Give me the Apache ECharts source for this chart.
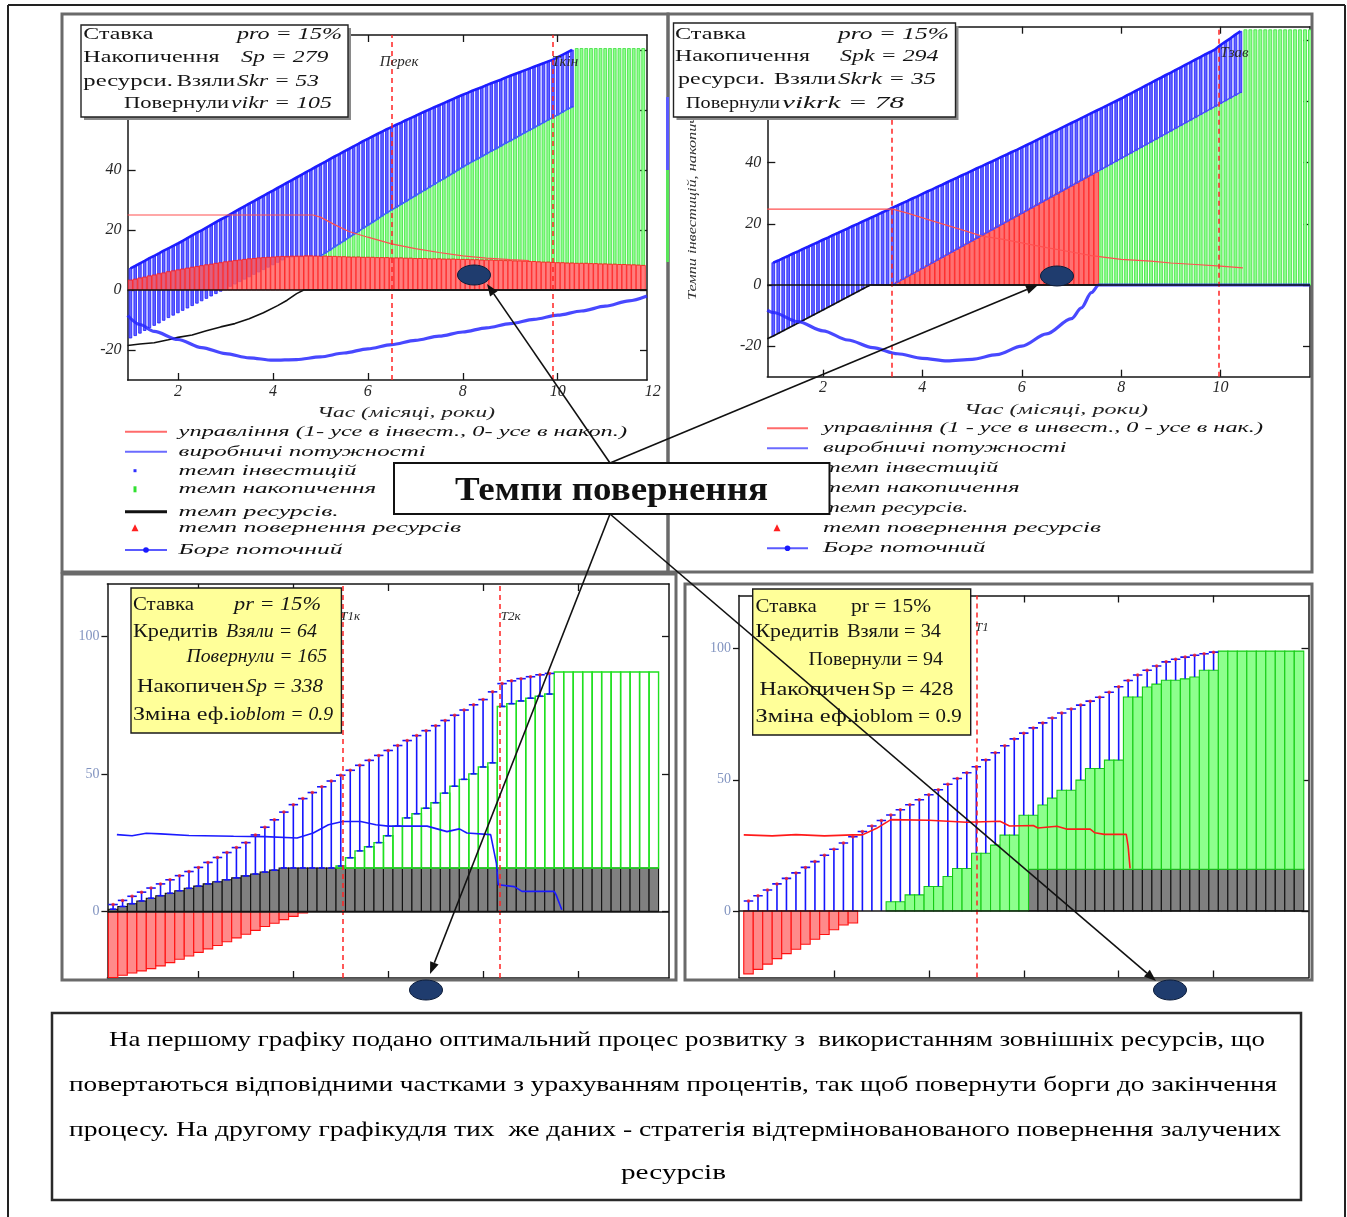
<!DOCTYPE html>
<html lang="uk">
<head>
<meta charset="utf-8">
<title>Темпи повернення</title>
<script src="https://cdn.jsdelivr.net/npm/echarts@6/dist/echarts.min.js"></script>
<style>
  html, body { margin: 0; padding: 0; background: #ffffff; }
  #chart { width: 1347px; height: 1217px; }
</style>
</head>
<body>
<div id="chart"></div>
<script>
// Simulation time step (years) shared by every panel
const STEP = 0.1;

// ---------- Panel 1: optimal schedule of returning borrowed resources ----------
const tlStart = 1.0;
const tlCapacity = [
  7.2, 8.0, 8.9, 9.7, 10.6, 11.4, 12.2, 13.1, 13.9, 14.7,
  15.5, 16.4, 17.3, 18.2, 19.1, 19.9, 20.8, 21.7, 22.6, 23.5,
  24.3, 25.2, 26.1, 27.0, 27.9, 28.8, 29.6, 30.5, 31.4, 32.3,
  33.1, 34.0, 34.9, 35.8, 36.6, 37.5, 38.4, 39.3, 40.1, 41.0,
  41.9, 42.7, 43.6, 44.5, 45.3, 46.2, 47.0, 47.9, 48.7, 49.6,
  50.4, 51.2, 52.0, 52.8, 53.6, 54.3, 55.1, 55.8, 56.6, 57.3,
  58.0, 58.8, 59.5, 60.2, 60.9, 61.6, 62.3, 63.0, 63.7, 64.4,
  65.1, 65.7, 66.4, 67.0, 67.6, 68.3, 68.9, 69.5, 70.1, 70.8,
  71.4, 72.0, 72.6, 73.2, 73.8, 74.4, 75.0, 75.6, 76.2, 76.8,
  77.6, 78.4, 79.2, 80.0
];
const tlInvestLow = [
  -16.0, -15.2, -14.4, -13.5, -12.6, -11.8, -11.0, -10.1, -9.2, -8.4,
  -7.6, -6.8, -6.0, -5.2, -4.4, -3.6, -2.8, -2.0, -1.2, -0.4,
  0.4, 1.2, 2.0, 2.8, 3.6, 4.4, 5.2, 6.0, 6.8, 7.6,
  8.4, 9.2, 10.0, 10.8, 11.0, 11.1, 11.1, 11.2, 11.2, 11.3
];
const tlAccumStart = 5.0;
const tlAccumTop = [
  11.3, 12.3, 13.3, 14.4, 15.4, 16.4, 17.5, 18.5, 19.5, 20.6,
  21.6, 22.6, 23.6, 24.7, 25.7, 26.7, 27.6, 28.6, 29.5, 30.5,
  31.4, 32.4, 33.3, 34.3, 35.2, 36.2, 37.1, 38.1, 39.0, 40.0,
  41.0, 41.9, 42.8, 43.6, 44.5, 45.4, 46.3, 47.1, 48.0, 48.9,
  49.7, 50.6, 51.5, 52.4, 53.2, 54.1, 55.0, 55.8, 56.7, 57.6,
  58.4, 59.3, 60.2, 61.0,
  80.5, 80.5, 80.5, 80.5, 80.5, 80.5, 80.5, 80.5, 80.5, 80.5,
  80.5, 80.5, 80.5, 80.5, 80.5
];
const tlReturn = [
  3.3, 3.6, 4.0, 4.3, 4.7, 5.0, 5.4, 5.7, 6.1, 6.4,
  6.7, 7.0, 7.3, 7.6, 7.8, 8.1, 8.4, 8.6, 8.9, 9.1,
  9.4, 9.6, 9.8, 10.0, 10.2, 10.4, 10.5, 10.7, 10.8, 10.9,
  11.0, 11.1, 11.2, 11.2, 11.3, 11.3, 11.3, 11.4, 11.4, 11.3,
  11.3, 11.3, 11.2, 11.2, 11.1, 11.1, 11.0, 11.0, 11.0, 10.9,
  10.9, 10.9, 10.8, 10.8, 10.8, 10.7, 10.7, 10.7, 10.6, 10.6,
  10.5, 10.5, 10.5, 10.4, 10.4, 10.4, 10.3, 10.3, 10.3, 10.2,
  10.2, 10.2, 10.1, 10.1, 10.0, 10.0, 10.0, 9.9, 9.9, 9.8,
  9.8, 9.7, 9.7, 9.6, 9.5, 9.5, 9.4, 9.3, 9.3, 9.2,
  9.1, 9.1, 9.0, 9.0, 8.9, 8.9, 8.9, 8.8, 8.8, 8.7,
  8.7, 8.6, 8.6, 8.5, 8.5, 8.4, 8.4, 8.3, 8.2
];
const tlControl = [[0.94, 25], [4.85, 25], [5.0, 24.3], [5.3, 21.8], [5.6, 19.5], [6.0, 17.6], [6.5, 15.4],
  [7.0, 13.8], [7.5, 12.5], [8.0, 11.4], [8.5, 10.6], [9.0, 10.1], [9.4, 9.8]];
const tlResource = [[0.94, -18.5], [1.2, -18.0], [1.5, -17.6], [1.8, -16.6], [2.0, -15.8], [2.3, -15.0], [2.6, -13.6],
  [2.9, -12.3], [3.2, -11.2], [3.5, -9.6], [3.8, -7.6], [4.1, -5.2], [4.3, -3.4], [4.5, -1.2], [4.65, 0], [11.88, 0]];
const tlDebt = [[0.94, -8.5], [1.2, -11.5], [1.5, -13.8], [2.0, -16.5], [2.5, -19.2], [3.0, -21.2], [3.5, -22.6],
  [4.0, -23.4], [4.5, -23.2], [5.0, -22.3], [5.5, -21.0], [6.0, -19.6], [6.5, -18.2], [7.0, -16.8], [7.5, -15.4],
  [8.0, -14.0], [8.5, -12.6], [9.0, -11.2], [9.5, -9.8], [10.0, -8.4], [10.5, -7.0], [11.0, -5.4], [11.5, -3.6], [11.88, -2.0]];
const tlMarks = [6.5, 9.9];

// ---------- Panel 2: deferred return of borrowed resources ----------
const trStart = 1.0;
const trCapacity = [
  7.3, 8.0, 8.8, 9.5, 10.3, 11.0, 11.8, 12.5, 13.3, 14.0,
  14.8, 15.5, 16.3, 17.0, 17.8, 18.5, 19.3, 20.0, 20.8, 21.5,
  22.3, 23.0, 23.8, 24.5, 25.3, 26.0, 26.8, 27.5, 28.3, 29.0,
  29.8, 30.6, 31.3, 32.1, 32.8, 33.6, 34.4, 35.1, 35.9, 36.6,
  37.4, 38.2, 38.9, 39.7, 40.4, 41.2, 42.0, 42.7, 43.5, 44.2,
  45.0, 45.8, 46.6, 47.4, 48.2, 49.0, 49.8, 50.6, 51.4, 52.2,
  53.0, 53.8, 54.6, 55.4, 56.2, 57.0, 57.8, 58.6, 59.4, 60.2,
  61.0, 61.9, 62.7, 63.6, 64.4, 65.3, 66.1, 67.0, 67.8, 68.7,
  69.5, 70.4, 71.2, 72.1, 72.9, 73.8, 74.6, 75.5, 76.3, 77.2,
  78.5, 79.6, 80.7, 81.9, 83.0
];
const trLower = [
  -16.7, -15.8, -15.0, -14.1, -13.3, -12.4, -11.6, -10.7, -9.9, -9.0,
  -8.2, -7.3, -6.5, -5.6, -4.7, -3.9, -3.0, -2.2, -1.3, -0.5,
  0, 0, 0, 0, 0, 0.9, 1.8, 2.7, 3.6, 4.5,
  5.4, 6.3, 7.2, 8.1, 9.0, 9.9, 10.8, 11.7, 12.6, 13.5,
  14.4, 15.3, 16.2, 17.1, 18.0, 18.9, 19.8, 20.7, 21.6, 22.5,
  23.4, 24.3, 25.2, 26.1, 27.0, 27.9, 28.8, 29.7, 30.6, 31.5,
  32.4, 33.3, 34.2, 35.1, 36.0, 36.9, 37.8, 38.7, 39.6, 40.5,
  41.4, 42.3, 43.2, 44.1, 45.0, 45.9, 46.8, 47.7, 48.6, 49.5,
  50.4, 51.3, 52.2, 53.1, 54.0, 54.9, 55.8, 56.7, 57.6, 58.5,
  59.4, 60.3, 61.2, 62.1, 63.0
];
const trReturnStart = 3.5;
const trReturn = [
  0.9, 1.8, 2.7, 3.6, 4.5, 5.4, 6.3, 7.2, 8.1, 9.0,
  9.9, 10.8, 11.7, 12.6, 13.5, 14.4, 15.3, 16.2, 17.1, 18.0,
  18.9, 19.8, 20.7, 21.6, 22.5, 23.4, 24.3, 25.2, 26.1, 27.0,
  27.9, 28.8, 29.7, 30.6, 31.5, 32.4, 33.3, 34.2, 35.1, 36.0,
  36.9
];
const trAccumStart = 7.6;
const trAccum = [
  37.8, 38.7, 39.6, 40.5, 41.4, 42.3, 43.2, 44.1, 45.0, 45.9,
  46.8, 47.7, 48.6, 49.5, 50.4, 51.3, 52.2, 53.1, 54.0, 54.9,
  55.8, 56.7, 57.6, 58.5, 59.4, 60.3, 61.2, 62.1, 63.0,
  83.5, 83.5, 83.5, 83.5, 83.5, 83.5, 83.5, 83.5, 83.5, 83.5,
  83.5, 83.5, 83.5, 83.5
];
const trControl = [[0.88, 24.8], [3.4, 24.8], [3.7, 23.5], [4.2, 21.0], [4.7, 18.5], [5.2, 16.0], [5.6, 15.0],
  [6.0, 13.8], [6.5, 12.2], [7.0, 10.8], [7.4, 9.6], [8.0, 8.4], [8.6, 7.8], [9.0, 7.2], [9.5, 6.7], [10.0, 6.2], [10.45, 5.6]];
const trResource = [[0.88, -17.6], [1.0, -16.7], [2.0, -8.2], [2.95, 0], [7.6, 0]];
const trDebt = [[0.88, -8.2], [1.0, -9.0], [1.5, -12.0], [2.0, -15.0], [2.5, -18.0], [3.0, -20.5], [3.5, -22.5],
  [4.0, -24.0], [4.5, -24.8], [5.0, -24.3], [5.5, -22.8], [6.0, -20.0], [6.5, -16.0], [7.0, -11.0], [7.2, -7.5],
  [7.4, -2.5], [7.55, 0], [11.8, 0]];
const trMarks = [3.38, 9.97];

// ---------- Panel 3: credit flows, returning during the process ----------
const blStart = 0.1;
const blCapacity = [
  2.5, 4.0, 5.5, 7.0, 8.5, 10.0, 11.5, 13.0, 14.5, 16.0,
  17.8, 19.6, 21.4, 23.2, 25.0, 27.8, 30.6, 33.3, 36.1, 38.8,
  41.0, 43.2, 45.3, 47.4, 49.5, 51.3, 53.1, 54.9, 56.7, 58.5,
  60.3, 62.1, 63.9, 65.7, 67.5, 69.4, 71.3, 73.2, 75.1, 77.0,
  79.8, 82.8, 83.8, 84.6, 85.3, 86.0, 86.5
];
const blInvestLow = [
  0.8, 1.8, 2.8, 3.8, 4.8, 5.7, 6.6, 7.5, 8.4, 9.2,
  10.0, 10.8, 11.5, 12.2, 12.9, 13.6, 14.3, 15.0, 15.8, 15.8,
  15.8, 15.8, 15.8, 15.8, 16.5, 19.5, 22.0, 23.5, 25.0, 27.5,
  31.0, 34.0, 35.5, 37.5, 39.5, 43.0, 45.5, 48.0, 50.0, 52.5,
  54.0, 74.5, 75.5, 76.5, 77.5, 78.2, 79.0
];
const blResource = [
  0.8, 1.8, 2.8, 3.8, 4.8, 5.7, 6.6, 7.5, 8.4, 9.2,
  10.0, 10.8, 11.5, 12.2, 12.9, 13.6, 14.3, 15.0, 15.8,
  15.8, 15.8, 15.8, 15.8, 15.8, 15.8, 15.8, 15.8, 15.8, 15.8,
  15.8, 15.8, 15.8, 15.8, 15.8, 15.8, 15.8, 15.8, 15.8, 15.8,
  15.8, 15.8, 15.8, 15.8, 15.8, 15.8, 15.8, 15.8, 15.8, 15.8,
  15.8, 15.8, 15.8, 15.8, 15.8, 15.8, 15.8, 15.8, 15.8
];
const blAccumStart = 2.5;
const blAccum = [
  16.5, 19.5, 22.0, 23.5, 25.0, 27.5,
  31.0, 34.0, 35.5, 37.5, 39.5, 43.0, 45.5, 48.0, 50.0, 52.5,
  54.0, 74.5, 75.5, 76.5, 77.5, 78.2, 79.0,
  87.0, 87.0, 87.0, 87.0, 87.0, 87.0, 87.0, 87.0, 87.0, 87.0, 87.0, 87.0
];
const blReturn = [
  -24.0, -23.2, -22.4, -21.6, -20.8, -19.8, -18.6, -17.4, -16.2, -14.9,
  -13.6, -12.4, -11.0, -9.6, -8.3, -6.9, -5.5, -4.3, -3.0, -1.8, -0.6
];
const blDebt = [[0.14, 27.9], [0.3, 27.5], [0.45, 28.4], [0.6, 28.2], [0.9, 27.6], [1.37, 27.3], [1.7, 27.2],
  [2.04, 26.7], [2.21, 28.5], [2.37, 31.5], [2.52, 32.7], [2.71, 32.7], [2.87, 31.5], [3.0, 31.0], [3.41, 31.0],
  [3.62, 29.0], [3.75, 30.0], [3.83, 28.5], [4.08, 27.9], [4.12, 21.0], [4.14, 17.6], [4.16, 9.7], [4.33, 9.0],
  [4.41, 7.3], [4.75, 7.3], [4.77, 6.0], [4.83, 0.6]];
const blMarks = [2.52, 4.18];

// ---------- Panel 4: credit flows, deferred return ----------
const brStart = 0.1;
const brCapacity = [
  3.8, 5.8, 8.0, 10.3, 12.4, 14.5, 16.6, 18.8, 21.2, 23.5,
  25.9, 28.3, 30.3, 32.4, 34.5, 36.6, 38.6, 40.5, 42.4, 44.3,
  46.2, 48.3, 50.5, 52.7, 55.0, 57.6, 60.3, 63.0, 65.6, 67.8,
  69.8, 71.7, 73.6, 75.5, 77.0, 78.5, 80.0, 81.5, 83.4, 85.5,
  87.9, 90.0, 91.8, 93.4, 95.0, 96.0, 96.8, 97.5, 98.1, 98.7
];
const brAccumStart = 1.6;
const brAccum = [
  3.5, 3.5, 6.1, 6.1, 9.3, 9.3, 13.1, 16.2, 16.2, 22.0,
  22.0, 25.1, 28.9, 28.9, 36.5, 36.5, 40.4, 43.0, 46.0, 46.0,
  49.9, 54.3, 54.3, 57.5, 57.5, 81.6, 81.6, 85.4, 86.5, 88.0,
  88.0, 88.5, 89.2, 91.8, 91.8,
  99.1, 99.1, 99.1, 99.1, 99.1, 99.1, 99.1, 99.1, 99.1
];
const brResourceStart = 3.1;
const brResource = [
  15.9, 15.9, 15.9, 15.9, 15.9, 15.9, 15.9, 15.9, 15.9, 15.9,
  15.9, 15.9, 15.9, 15.9, 15.9, 15.9, 15.9, 15.9, 15.9, 15.9,
  15.9, 15.9, 15.9, 15.9, 15.9, 15.9, 15.9, 15.9, 15.9
];
const brReturn = [-24.0, -22.3, -20.3, -18.2, -16.3, -14.6, -12.7, -10.8, -9.0, -7.2, -5.4, -4.6];
const brControl = [[0.05, 29.0], [0.35, 28.6], [0.6, 29.1], [0.9, 28.6], [1.2, 29.0], [1.3, 29.0], [1.45, 31.5],
  [1.6, 34.8], [2.0, 34.6], [2.4, 33.8], [2.75, 34.2], [2.85, 32.4], [3.1, 32.6], [3.15, 31.6], [3.35, 32.3],
  [3.45, 31.2], [3.7, 31.2], [3.75, 29.8], [3.85, 29.2], [4.08, 29.2], [4.1, 24.5], [4.12, 16.2]];
const brMarks = [2.5];

// Tick values
const yearTicks = [2, 4, 6, 8, 10];
const rateTicks = [-20, 0, 20, 40, 60, 80];
const stageTicks = [1, 2, 3, 4, 5];
const shareTicks = [0, 50, 100];

// ---------- helpers ----------
const at = (start, i) => Math.round((start + i * STEP) * 100) / 100;
const valueAt = (arr, start, t) => {
  const i = Math.round((t - start) / STEP);
  return i >= 0 && i < arr.length ? arr[i] : null;
};
const pts = (arr, start) => arr.map((v, i) => [at(start, i), v]);

// bar records [t, low, high]
const tlSplit = Math.round((tlAccumStart - tlStart) / STEP);
const tlGreen = tlAccumTop.map((v, i) => { const t = at(tlAccumStart, i); return [t, valueAt(tlReturn, tlStart, t), v]; });
const tlBlue = tlCapacity.map((v, i) => [at(tlStart, i), i < tlSplit ? tlInvestLow[i] : tlAccumTop[i - tlSplit], v]);
const tlRed = tlReturn.map((v, i) => [at(tlStart, i), 0, v]);

const trBlue = trCapacity.map((v, i) => [at(trStart, i), trLower[i], v]);
const trRed = trReturn.map((v, i) => [at(trReturnStart, i), 0, v]);
const trGreen = trAccum.map((v, i) => [at(trAccumStart, i), 0, v]);

const blRed = blReturn.map((v, i) => [at(blStart, i), v, 0]);
const blGray = blResource.map((v, i) => [at(blStart, i), 0, v]);
const blGreen = blAccum.map((v, i) => { const t = at(blAccumStart, i); return [t, valueAt(blResource, blStart, t), v]; });
const blBlue = blCapacity.map((v, i) => [at(blStart, i), blInvestLow[i], v]);

const brRed = brReturn.map((v, i) => [at(brStart, i), v, 0]);
const brGray = brResource.map((v, i) => [at(brResourceStart, i), 0, v]);
const brGreen = brAccum.map((v, i) => {
  const t = at(brAccumStart, i); const base = valueAt(brResource, brResourceStart, t);
  return [t, base == null ? 0 : base, v];
});
const brBlue = brCapacity.map((v, i) => {
  const t = at(brStart, i); const g = valueAt(brAccum, brAccumStart, t);
  return [t, g == null ? 0 : g, v];
});

function barRender(fill, stroke, ratio, lw) {
  return function (params, api) {
    const t = api.value(0), lo = api.value(1), hi = api.value(2);
    const a = api.coord([t, hi]), b = api.coord([t, lo]);
    const w = api.size([STEP, 0])[0] * ratio;
    return { type: 'rect', shape: { x: a[0] - w / 2, y: a[1], width: w, height: b[1] - a[1] },
      style: { fill: fill, stroke: stroke, lineWidth: lw } };
  };
}
function stemRender(color, bottomCap) {
  return function (params, api) {
    const t = api.value(0), lo = api.value(1), hi = api.value(2);
    const a = api.coord([t, hi]), b = api.coord([t, lo]);
    const w = api.size([STEP, 0])[0];
    const st = { stroke: color, lineWidth: 1.6 };
    const kids = [
      { type: 'line', shape: { x1: a[0], y1: a[1], x2: b[0], y2: b[1] }, style: st },
      { type: 'line', shape: { x1: a[0] - w / 2, y1: a[1], x2: a[0] + w / 2, y2: a[1] }, style: st }
    ];
    if (bottomCap) kids.push({ type: 'line', shape: { x1: b[0] - 3, y1: b[1], x2: b[0] + 3, y2: b[1] }, style: st });
    return { type: 'group', children: kids };
  };
}
function custom(g, data, renderItem) {
  return { type: 'custom', xAxisIndex: g * 2, yAxisIndex: g * 2, data: data, renderItem: renderItem,
    clip: true, silent: true, z: 2 };
}
function line(g, data, color, width, extra) {
  return Object.assign({ type: 'line', xAxisIndex: g * 2, yAxisIndex: g * 2, data: data, symbol: 'none',
    showSymbol: false, lineStyle: { color: color, width: width }, silent: true, z: 3 }, extra || {});
}
function dots(g, data) {
  return { type: 'scatter', xAxisIndex: g * 2, yAxisIndex: g * 2, data: data, symbol: 'circle', symbolSize: 3.5,
    itemStyle: { color: '#ff2020' }, silent: true, z: 4 };
}
function vMarks(xs) {
  const data = xs.map(x => ({ xAxis: x }));
  data.push({ yAxis: 0, lineStyle: { color: '#141414', type: 'solid', width: 1.5 } });
  return { silent: true, symbol: ['none', 'none'], label: { show: false },
    lineStyle: { color: '#ff2323', type: [5, 4], width: 1.5 }, data: data };
}

// ---------- axes ----------
const AX = '#161616';
const axisLine = { show: true, onZero: false, lineStyle: { color: AX, width: 1.5 } };
function xPair(g, min, max, ticks, label, margin) {
  const tick = { show: true, inside: true, length: 7, customValues: ticks, lineStyle: { color: AX, width: 1.3 } };
  return [
    { type: 'value', gridIndex: g, position: 'bottom', min: min, max: max, axisLine: axisLine, axisTick: tick,
      splitLine: { show: false },
      axisLabel: label ? Object.assign({ show: true, customValues: ticks, margin: margin }, label) : { show: false } },
    { type: 'value', gridIndex: g, position: 'top', min: min, max: max, axisLine: axisLine, axisTick: tick,
      splitLine: { show: false }, axisLabel: { show: false } }
  ];
}
function yPair(g, min, max, ticks, label, margin, outside) {
  return [
    { type: 'value', gridIndex: g, position: 'left', min: min, max: max, axisLine: axisLine, splitLine: { show: false },
      axisTick: { show: true, inside: !outside, length: outside ? 6 : 8, customValues: ticks, lineStyle: { color: AX, width: 1.3 } },
      axisLabel: Object.assign({ show: true, customValues: ticks, margin: margin }, label) },
    { type: 'value', gridIndex: g, position: 'right', min: min, max: max, axisLine: axisLine, splitLine: { show: false },
      axisTick: { show: true, inside: true, length: 7, customValues: ticks, lineStyle: { color: AX, width: 1.3 } },
      axisLabel: { show: false } }
  ];
}
const upperFont = { fontFamily: '"Liberation Serif", serif', fontStyle: 'italic', fontSize: 16, color: '#272727' };
const lowerFont = { fontFamily: '"Liberation Serif", serif', fontSize: 14, color: '#8294c0' };

const grids = [
  { left: 127.6, top: 35, width: 519.4, height: 345 },
  { left: 767.3, top: 26.7, width: 542.7, height: 350 },
  { left: 107.4, top: 584, width: 561.6, height: 394 },
  { left: 739, top: 595.5, width: 569.5, height: 382 }
];

const BLUE_FILL = '#6262ff', BLUE_EDGE = '#2020ff';
const GREEN_FILL = '#8dff8d', GREEN_EDGE = '#40e040';

const option = {
  animation: false,
  backgroundColor: '#ffffff',
  grid: grids.map(g => Object.assign({ containLabel: false, outerBoundsMode: 'none' }, g)),
  xAxis: [].concat(
    xPair(0, 0.94, 11.88, yearTicks, upperFont, 4),
    xPair(1, 0.88, 11.8, yearTicks, upperFont, 3),
    xPair(2, 0.04, 5.96, stageTicks, null, 0),
    xPair(3, 0, 6, stageTicks, null, 0)
  ),
  yAxis: [].concat(
    yPair(0, -30, 85, rateTicks, upperFont, 6, false),
    yPair(1, -30, 84.5, rateTicks, upperFont, 6, false),
    yPair(2, -24.2, 119, shareTicks, lowerFont, 8, true),
    yPair(3, -25.4, 120.3, shareTicks, lowerFont, 8, true)
  ),
  series: [
    // panel 1
    custom(0, tlGreen, barRender(GREEN_FILL, GREEN_EDGE, 0.6, 0.8)),
    custom(0, tlBlue, barRender(BLUE_FILL, BLUE_EDGE, 0.55, 0.8)),
    custom(0, tlRed, barRender('rgba(255,96,96,0.82)', '#ff1a1a', 0.9, 0.8)),
    line(0, pts(tlAccumTop, tlAccumStart).slice(0, tlCapacity.length - tlSplit), '#3f5fff', 1.6),
    line(0, pts(tlCapacity, tlStart), '#1d1dff', 2.6),
    line(0, tlControl, '#ff5050', 1.2),
    line(0, tlResource, '#111111', 1.6),
    line(0, tlDebt, 'rgba(40,40,255,0.85)', 3.2, { smooth: 0.3, smoothMonotone: 'x', markLine: vMarks(tlMarks) }),
    // panel 2
    custom(1, trGreen, barRender(GREEN_FILL, GREEN_EDGE, 0.6, 0.8)),
    custom(1, trBlue, barRender(BLUE_FILL, BLUE_EDGE, 0.55, 0.8)),
    custom(1, trRed, barRender('rgba(255,96,96,0.9)', '#ff1a1a', 0.9, 0.8)),
    line(1, pts(trLower, trStart).filter(p => p[1] >= 0), '#4a4aff', 1.4),
    line(1, pts(trCapacity, trStart), '#1d1dff', 2.6),
    line(1, trControl, '#ff5050', 1.2),
    line(1, trResource, '#111111', 1.6),
    line(1, trDebt, 'rgba(40,40,255,0.85)', 3.2, { smooth: 0.3, smoothMonotone: 'x', markLine: vMarks(trMarks) }),
    // panel 3
    custom(2, blRed, barRender('#ff8a8a', '#ff1010', 1, 1.1)),
    custom(2, blGray, barRender('#808080', '#111111', 1, 1.1)),
    custom(2, blGreen, barRender('rgba(255,255,255,0)', '#1fe01f', 1, 1.4)),
    custom(2, blBlue, stemRender('#1414ff', true)),
    dots(2, pts(blCapacity, blStart)),
    line(2, blDebt, '#1a1aff', 1.6, { markLine: vMarks(blMarks) }),
    // panel 4
    custom(3, brRed, barRender('#ff8a8a', '#ff1010', 1, 1.1)),
    custom(3, brGray, barRender('#808080', '#111111', 1, 1.1)),
    custom(3, brGreen, barRender('#8dff8d', '#14cc14', 1, 1.1)),
    custom(3, brBlue, stemRender('#1414ff', false)),
    dots(3, pts(brCapacity, brStart)),
    line(3, brControl, '#ff1a1a', 1.6, { markLine: vMarks(brMarks) })
  ]
};

const chart = echarts.init(document.getElementById('chart'), null, { renderer: 'canvas' });
chart.setOption(option);

// ---------- annotations, frames, legends ----------
const G = [];
const SERIF = '"Liberation Serif", serif';
const measure = document.createElement('canvas').getContext('2d');
function fitted(text, left, right, y, font, fill, z, extra) {
  measure.font = font;
  const w = measure.measureText(text).width || 1;
  G.push(Object.assign({ type: 'text', x: left, y: y, scaleX: (right - left) / w, z: z == null ? 22 : z, silent: true,
    style: { text: text, font: font, fill: fill || '#151515', align: 'left', verticalAlign: 'middle' } }, extra || {}));
}
function rect(x, y, w, h, style, z) { G.push({ type: 'rect', shape: { x: x, y: y, width: w, height: h }, style: style, z: z == null ? 20 : z, silent: true }); }
function seg(x1, y1, x2, y2, style, z) { G.push({ type: 'line', shape: { x1: x1, y1: y1, x2: x2, y2: y2 }, style: style, z: z == null ? 21 : z, silent: true }); }
function arrow(x1, y1, x2, y2) {
  const L = Math.hypot(x2 - x1, y2 - y1), ux = (x2 - x1) / L, uy = (y2 - y1) / L;
  const bx = x2 - ux * 12, by = y2 - uy * 12, px = -uy * 4.5, py = ux * 4.5;
  seg(x1, y1, bx, by, { stroke: '#111', lineWidth: 1.6 }, 30);
  G.push({ type: 'polygon', z: 30, silent: true, shape: { points: [[x2, y2], [bx + px, by + py], [bx - px, by - py]] }, style: { fill: '#111' } });
}
function blob(cx, cy) {
  G.push({ type: 'ellipse', z: 26, silent: true, shape: { cx: cx, cy: cy, rx: 16.5, ry: 10 },
    style: { fill: '#1f3c6e', stroke: '#0d1d3a', lineWidth: 1 } });
}

// page and panel frames
seg(8, 5, 8, 1217, { stroke: '#222', lineWidth: 2 }, 1);
seg(8, 5, 1345, 5, { stroke: '#222', lineWidth: 2 }, 1);
seg(1345, 5, 1345, 1217, { stroke: '#222', lineWidth: 2 }, 1);
const frame = { fill: 'none', stroke: '#6a6a6a', lineWidth: 3 };
rect(62, 14, 606, 558, frame, 1);
rect(668, 14, 644, 558, frame, 1);
rect(62, 574, 614, 406, frame, 1);
rect(685, 584, 627, 396, frame, 1);
rect(666, 97, 3, 73, { fill: '#5a5aff' }, 1);
rect(666, 170, 3, 92, { fill: '#5ae65a' }, 1);

// parameter boxes of the upper panels
rect(84, 28, 267, 92, { fill: '#8a8a8a' }, 19);
rect(81, 25, 267, 92, { fill: '#ffffff', stroke: '#222', lineWidth: 1.4 }, 20);
const boxFont = '17px ' + SERIF, boxItal = 'italic 17px ' + SERIF;
fitted('Ставка', 83.3, 153.4, 35, boxFont);
fitted('pro = 15%', 237, 342, 35, boxItal);
fitted('Накопичення', 83.3, 219.5, 58, boxFont);
fitted('Sp = 279', 241, 328.5, 58, boxItal);
fitted('ресурси.', 83.3, 172.8, 81.7, boxFont);
fitted('Взяли', 176.7, 235, 81.7, boxFont);
fitted('Skr = 53', 237, 318.8, 81.7, boxItal);
fitted('Повернули', 124, 229, 103.3, boxFont);
fitted('vikr = 105', 231, 332, 103.3, boxItal);

rect(676.5, 26, 282, 94, { fill: '#8a8a8a' }, 19);
rect(673.5, 23, 282, 94, { fill: '#ffffff', stroke: '#222', lineWidth: 1.4 }, 20);
fitted('Ставка', 675, 746, 35, boxFont);
fitted('pro = 15%', 838, 949, 35, boxItal);
fitted('Накопичення', 675, 810, 56.7, boxFont);
fitted('Spk = 294', 840, 938.5, 56.7, boxItal);
fitted('ресурси.', 678, 765, 80, boxFont);
fitted('Взяли', 774, 836, 80, boxFont);
fitted('Skrk = 35', 838, 936, 80, boxItal);
fitted('Повернули', 686, 780, 103.3, boxFont);
fitted('vikrk = 78', 782, 904, 103.3, boxItal);

// parameter boxes of the lower panels
rect(131, 588, 210.4, 145, { fill: '#ffff99', stroke: '#1a1a1a', lineWidth: 1.4 }, 20);
const yFont = '19px ' + SERIF, yItal = 'italic 19px ' + SERIF;
fitted('Ставка', 133, 194, 605, yFont);
fitted('pr = 15%', 234, 321, 605, yItal);
fitted('Кредитів', 133, 218, 631.7, yFont);
fitted('Взяли = 64', 226, 317, 631.7, yItal);
fitted('Повернули = 165', 186.5, 327, 656.7, yItal);
fitted('Накопичен', 137, 244, 686.7, yFont);
fitted('Sp = 338', 246, 323, 686.7, yItal);
fitted('Зміна еф.і', 133, 236, 715, yFont);
fitted('oblom = 0.9', 236, 333, 715, yItal);

rect(752.7, 589, 218, 146, { fill: '#ffff99', stroke: '#1a1a1a', lineWidth: 1.4 }, 20);
fitted('Ставка', 755.5, 816.7, 606.7, yFont);
fitted('pr = 15%', 851, 931, 606.7, yFont);
fitted('Кредитів', 755.5, 839, 631.7, yFont);
fitted('Взяли = 34', 847, 941, 631.7, yFont);
fitted('Повернули = 94', 808.6, 943, 660, yFont);
fitted('Накопичен', 759.6, 869.8, 690, yFont);
fitted('Sp = 428', 872, 953.5, 690, yFont);
fitted('Зміна еф.і', 755.5, 859.6, 716.7, yFont);
fitted('oblom = 0.9', 859.6, 961.6, 716.7, yFont);

// axis titles
const titleFont = 'italic 15px ' + SERIF;
fitted('Час (місяці, роки)', 317, 495, 413, titleFont, '#222');
fitted('Час (місяці, роки)', 964, 1148, 410, titleFont, '#222');
(function () {
  const font = 'italic 13px ' + SERIF, text = 'Темпи інвестицій, накопичення';
  measure.font = font;
  G.push({ type: 'text', x: 693, y: 300, rotation: Math.PI / 2, scaleX: 215 / measure.measureText(text).width,
    z: 15, silent: true, style: { text: text, font: font, fill: '#333', align: 'left', verticalAlign: 'middle' } });
})();

// legends
const legendFont = 'italic 15px ' + SERIF;
const tlLegend = ['управління (1- усе в інвест., 0- усе в накоп.)', 'виробничі потужності', 'темп інвестицій',
  'темп накопичення', 'темп ресурсів.', 'темп повернення ресурсів', 'Борг поточний'];
const trLegend = ['управління (1 - усе в инвест., 0 - усе в нак.)', 'виробничі потужності', 'темп інвестицій',
  'темп накопичення', 'темп ресурсів.', 'темп повернення ресурсів', 'Борг поточний'];
const legendKinds = ['red', 'blue', 'bdot', 'gdot', 'black', 'tri', 'debt'];
function legendIcon(kind, x1, x2, y) {
  const cx = (x1 + x2) / 2, sx = x1 + 10;
  if (kind === 'red') seg(x1, y, x2, y, { stroke: '#ff6b6b', lineWidth: 2 });
  else if (kind === 'blue') seg(x1, y, x2, y, { stroke: '#6b6bff', lineWidth: 2 });
  else if (kind === 'bdot') rect(sx - 1.5, y - 1.5, 3, 3, { fill: '#3030ff' }, 21);
  else if (kind === 'gdot') rect(sx - 1.5, y - 3, 3, 6, { fill: '#30e030' }, 21);
  else if (kind === 'black') seg(x1, y, x2, y, { stroke: '#111', lineWidth: 3 });
  else if (kind === 'tri') G.push({ type: 'polygon', z: 21, silent: true, shape: { points: [[sx, y - 4], [sx - 3.5, y + 3], [sx + 3.5, y + 3]] }, style: { fill: '#ff2020' } });
  else if (kind === 'debt') {
    seg(x1, y, x2, y, { stroke: '#5a5aff', lineWidth: 2 });
    G.push({ type: 'circle', z: 21, silent: true, shape: { cx: cx, cy: y, r: 2.8 }, style: { fill: '#1a1aff' } });
  }
}
const tlLegendY = [431.7, 451.7, 470.7, 489.3, 511.7, 528.3, 550];
const tlLegendEnd = [627, 425.6, 356.4, 376.2, 338.7, 461.2, 342.6];
const trLegendY = [428.3, 448.3, 468.3, 488.3, 508.3, 528.3, 548.3];
const trLegendEnd = [1263, 1066.7, 998.3, 1019.7, 968.4, 1100.9, 985.5];
tlLegend.forEach((t, i) => { legendIcon(legendKinds[i], 125, 167, tlLegendY[i]); fitted(t, 178.6, tlLegendEnd[i], tlLegendY[i], legendFont, '#111'); });
trLegend.forEach((t, i) => { legendIcon(legendKinds[i], 767, 808, trLegendY[i]); fitted(t, 823, trLegendEnd[i], trLegendY[i], legendFont, '#111'); });

// central callout with arrows
arrow(610, 463, 487, 284);
arrow(610, 463, 1038, 285);
arrow(610, 514, 430, 974);
arrow(610, 514, 1156, 981);
blob(474, 275);
blob(1057, 276);
blob(426, 990);
blob(1170, 990);
rect(394, 463, 435.5, 51, { fill: '#ffffff', stroke: '#111', lineWidth: 2 }, 28);
fitted('Темпи повернення', 455, 768, 491, 'bold 34px ' + SERIF, '#111', 29);

// caption
rect(52, 1013, 1249, 187, { fill: '#ffffff', stroke: '#2a2a2a', lineWidth: 2.5 }, 20);
const capFont = '22px ' + SERIF;
fitted('На першому графіку подано оптимальний процес розвитку з  використанням зовнішніх ресурсів, що', 109, 1265, 1040, capFont, '#000');
fitted('повертаються відповідними частками з урахуванням процентів, так щоб повернути борги до закінчення', 69, 1277, 1085, capFont, '#000');
fitted('процесу. На другому графікудля тих  же даних - стратегія відтермінованованого повернення залучених', 69, 1281, 1130, capFont, '#000');
fitted('ресурсів', 621, 726, 1173, capFont, '#000');

// names of the switching moments, placed through the axes' own scales
function px(g, t, v) { return chart.convertToPixel({ xAxisIndex: g * 2, yAxisIndex: g * 2 }, [t, v]); }
function markName(g, t, v, text, size) {
  const p = px(g, t, v);
  G.push({ type: 'text', x: p[0], y: p[1], z: 15, silent: true,
    style: { text: text, font: 'italic ' + size + 'px ' + SERIF, fill: '#2a2a2a', align: 'center', verticalAlign: 'middle' } });
}
markName(0, 6.66, 76, 'Перек', 15);
markName(0, 10.15, 76, 'Ткін', 15);
markName(1, 10.28, 76, 'Тзав', 15);
markName(2, 2.6, 107, 'T1к', 13);
markName(2, 4.29, 107, 'T2к', 13);
markName(3, 2.56, 108, 'T1', 13);
(function () {
  const p = px(0, 12, -30);
  G.push({ type: 'text', x: p[0], y: p[1] + 12, z: 15, silent: true,
    style: { text: '12', font: 'italic 16px ' + SERIF, fill: '#272727', align: 'center', verticalAlign: 'middle' } });
})();

chart.setOption({ graphic: { elements: G } });
</script>
</body>
</html>
